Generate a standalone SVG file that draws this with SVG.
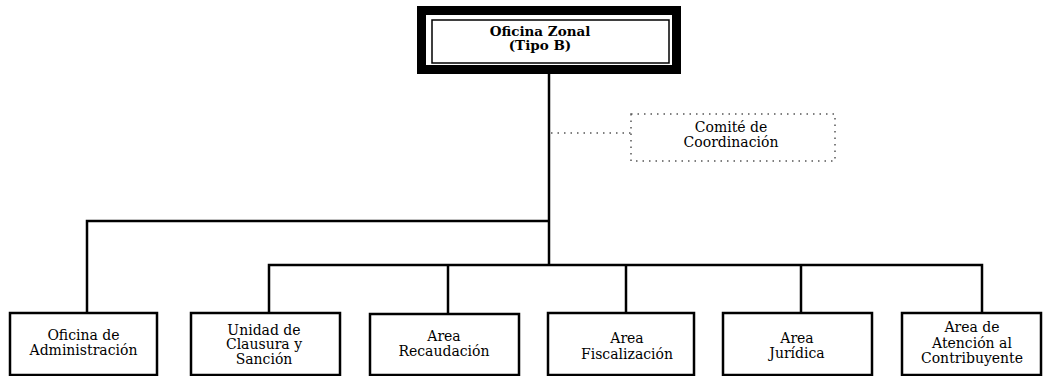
<svg xmlns="http://www.w3.org/2000/svg" width="1043" height="376" viewBox="0 0 1043 376">
<style>
.bg{fill:#ffffff}
.box{fill:#ffffff;stroke:#000000;stroke-width:2.5}
.ln{fill:none;stroke:#000000;stroke-width:2.5}
.dot{fill:none;stroke:#555555;stroke-width:1.5;stroke-dasharray:1.5 5}
.t{font-family:"DejaVu Serif","Liberation Serif",serif;font-size:14px;fill:#000000;text-anchor:middle}
.tb{font-family:"DejaVu Serif","Liberation Serif",serif;font-size:13.5px;font-weight:bold;fill:#000000;text-anchor:middle}
</style>
<rect class="bg" x="0" y="0" width="1043" height="376"/>
<g id="connectors">
<line class="ln" x1="549" y1="74" x2="549" y2="266"/>
<polyline class="ln" points="549,221 87,221 87,313"/>
<polyline class="ln" points="269,313 269,265 982,265 982,313"/>
<line class="ln" x1="448" y1="265" x2="448" y2="313"/>
<line class="ln" x1="626" y1="265" x2="626" y2="313"/>
<line class="ln" x1="801" y1="265" x2="801" y2="313"/>
<line class="dot" x1="551" y1="133" x2="631" y2="133"/>
</g>
<g id="oficina-zonal">
<rect x="421.5" y="10.5" width="255" height="59" fill="#ffffff" stroke="#000000" stroke-width="9"/>
<rect x="432" y="20" width="237" height="43" fill="none" stroke="#000000" stroke-width="1.5"/>
<text class="tb" x="540" y="36">Oficina Zonal</text>
<text class="tb" x="540" y="50">(Tipo B)</text>
</g>
<g id="comite">
<rect class="dot" x="631" y="114" width="204" height="47"/>
<text class="t" x="731" y="132">Comité de</text>
<text class="t" x="731" y="147">Coordinación</text>
</g>
<g id="administracion">
<rect class="box" x="10" y="313" width="147" height="62"/>
<text class="t" x="83.5" y="340">Oficina de</text>
<text class="t" x="83.5" y="355">Administración</text>
</g>
<g id="clausura">
<rect class="box" x="191" y="313" width="149" height="62"/>
<text class="t" x="264" y="335">Unidad de</text>
<text class="t" x="264" y="349">Clausura y</text>
<text class="t" x="264" y="364">Sanción</text>
</g>
<g id="recaudacion">
<rect class="box" x="370" y="314" width="149" height="61"/>
<text class="t" x="444" y="341">Area</text>
<text class="t" x="444" y="356">Recaudación</text>
</g>
<g id="fiscalizacion">
<rect class="box" x="548" y="313" width="146" height="62"/>
<text class="t" x="627" y="343">Area</text>
<text class="t" x="627" y="359">Fiscalización</text>
</g>
<g id="juridica">
<rect class="box" x="723" y="313" width="149" height="62"/>
<text class="t" x="797" y="343">Area</text>
<text class="t" x="797" y="358">Jurídica</text>
</g>
<g id="atencion">
<rect class="box" x="902" y="313" width="139" height="62"/>
<text class="t" x="972" y="332">Area de</text>
<text class="t" x="972" y="348">Atención al</text>
<text class="t" x="972" y="363">Contribuyente</text>
</g>
</svg>
